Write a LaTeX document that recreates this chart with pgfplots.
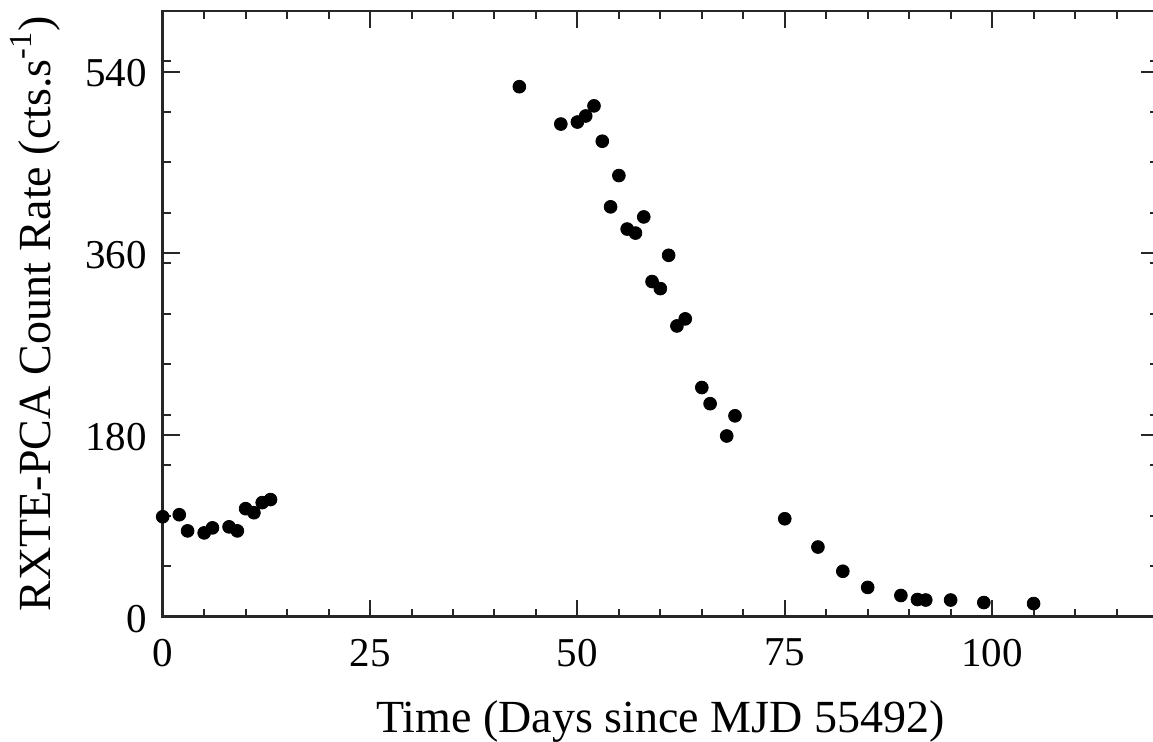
\documentclass[border=0pt]{standalone}
\usepackage{fontspec}
\setmainfont{Liberation Serif}
\usepackage{pgfplots}
\pgfplotsset{compat=1.18}
\usetikzlibrary{calc}
\begin{document}
\begin{tikzpicture}
\begin{axis}[
  name=ax,
  scale only axis,
  width=497.65pt, height=302.85pt,
  xmin=0, xmax=120, ymin=0, ymax=600,
  xtick={0,25,50,75,100},
  minor xtick={5,10,15,20,30,35,40,45,55,60,65,70,80,85,90,95,105,110,115},
  ytick={0,180,360,540},
  minor ytick={50,100,150,200,250,300,350,400,450,500,550},
  tick pos=both, tick align=inside,
  major tick length=8.5pt, minor tick length=4pt,
  axis line style={black!85, line width=1.3pt},
  every tick/.style={black!85, line width=1pt},
  /pgf/number format/assume math mode=true,
  tick label style={font=\fontsize{20.5}{24}\selectfont},
  xticklabel style={anchor=north, inner sep=0pt, yshift=-11pt},
  yticklabel style={anchor=east, inner sep=0pt, xshift=-7.8pt, yshift=-1pt},
  xlabel={Time (Days since MJD 55492)},
  ylabel={RXTE-PCA Count Rate (cts.s\textsuperscript{-1})},
  label style={font=\fontsize{23}{27}\selectfont},
  xlabel style={at={(axis description cs:0.5,-0.192)}, anchor=base, inner sep=0pt},
  ylabel style={at={(axis description cs:-0.1132,0.5)}, anchor=base, inner sep=0pt},
]
\addplot[only marks, mark=*, mark size=3.2pt, black] coordinates {
(0,99) (2,101) (3,85) (5,83) (6,88) (8,89) (9,85) (10,107) (11,103) (12,113) (13,116)
(43,525) (48,488) (50,490) (51,496) (52,506) (53,471) (54,406) (55,437) (56,384) (57,380) (58,396)
(59,332) (60,325) (61,358) (62,288) (63,295) (65,227) (66,211) (68,179) (69,199)
(75,97) (79,69) (82,45) (85,29) (89,21) (91,17) (92,16.5) (95,16.5) (99,14) (105,13)
};
\end{axis}
\pgfresetboundingbox
\useasboundingbox ($(ax.south west)+(-81.35pt,-62.65pt)$) rectangle ($(ax.south west)+(495.15pt,308.35pt)$);
\end{tikzpicture}
\end{document}
